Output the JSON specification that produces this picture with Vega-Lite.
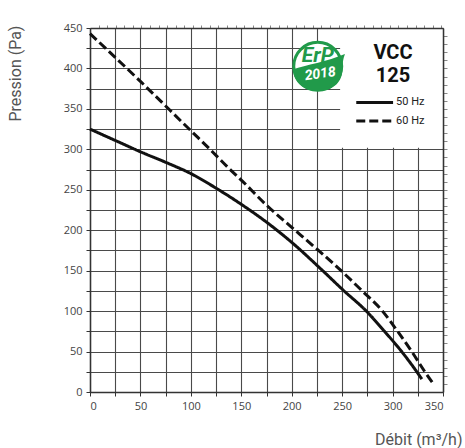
{
  "$schema": "https://vega.github.io/schema/vega-lite/v6.json",
  "width": 353,
  "height": 364,
  "autosize": {"type": "none"},
  "padding": {"left": 90, "top": 28, "right": 22, "bottom": 56},
  "background": "white",
  "config": {"view": {"stroke": null}},
  "datasets": {
    "curves": [
      {"q": 0, "p": 325, "s": "50 Hz"}, {"q": 25, "p": 311, "s": "50 Hz"}, {"q": 50, "p": 297, "s": "50 Hz"},
      {"q": 75, "p": 284, "s": "50 Hz"}, {"q": 100, "p": 270, "s": "50 Hz"}, {"q": 125, "p": 252, "s": "50 Hz"},
      {"q": 150, "p": 232, "s": "50 Hz"}, {"q": 175, "p": 210, "s": "50 Hz"}, {"q": 200, "p": 185, "s": "50 Hz"},
      {"q": 229, "p": 152, "s": "50 Hz"}, {"q": 251, "p": 126, "s": "50 Hz"}, {"q": 274, "p": 100, "s": "50 Hz"},
      {"q": 292, "p": 75, "s": "50 Hz"}, {"q": 309, "p": 50, "s": "50 Hz"}, {"q": 324, "p": 25, "s": "50 Hz"},
      {"q": 329, "p": 16, "s": "50 Hz"},
      {"q": 0, "p": 443, "s": "60 Hz"}, {"q": 50, "p": 384, "s": "60 Hz"}, {"q": 100, "p": 323, "s": "60 Hz"},
      {"q": 119, "p": 300, "s": "60 Hz"}, {"q": 139, "p": 275, "s": "60 Hz"}, {"q": 150, "p": 262, "s": "60 Hz"},
      {"q": 175, "p": 231, "s": "60 Hz"}, {"q": 208, "p": 195, "s": "60 Hz"}, {"q": 249, "p": 150, "s": "60 Hz"},
      {"q": 269, "p": 126, "s": "60 Hz"}, {"q": 290, "p": 100, "s": "60 Hz"}, {"q": 305, "p": 75, "s": "60 Hz"},
      {"q": 319, "p": 50, "s": "60 Hz"}, {"q": 332, "p": 25, "s": "60 Hz"}, {"q": 341, "p": 9, "s": "60 Hz"}
    ],
    "box": [{"q": 248, "q2": 350, "p": 302, "p2": 450}],
    "logo": [{"q": 225.8, "p": 402.6}],
    "logotext": [
      {"q": 225.8, "p": 415, "t": "ErP", "k": "erp"},
      {"q": 228.3, "p": 393, "t": "2018", "k": "year"}
    ],
    "title": [
      {"q": 300.4, "p": 419, "t": "VCC"},
      {"q": 300.4, "p": 391, "t": "125"}
    ],
    "legline": [
      {"q": 264, "p": 358, "s": "50 Hz"}, {"q": 300.5, "p": 358, "s": "50 Hz"},
      {"q": 264, "p": 335, "s": "60 Hz"}, {"q": 300.5, "p": 335, "s": "60 Hz"}
    ],
    "legtext": [
      {"q": 303.5, "p": 358, "t": "50 Hz"},
      {"q": 303.5, "p": 335, "t": "60 Hz"}
    ]
  },
  "layer": [
    {
      "data": {"name": "box"},
      "mark": {"type": "rect", "fill": "white", "stroke": null},
      "encoding": {
        "x": {"field": "q", "type": "quantitative", "scale": {"domain": [0, 350], "nice": false, "zero": false},
          "axis": {"orient": "top", "values": [8.5,17,25.5,34,42.5,51,59.5,68,76.5,85,93.4,101.9,110.4,118.9,127.4,135.9,144.4,152.9,161.4,169.9,178.4,186.9,195.4,203.9,212.4,220.9,229.4,237.9,246.4,254.9,263.4,271.8,280.3,288.8,297.3,305.8,314.3,322.8,331.3,339.8,348.3],
            "labels": false, "grid": false, "title": null, "tickSize": 3, "tickColor": "#888", "domainColor": "#333", "domainWidth": 1.5, "zindex": 1}},
        "x2": {"field": "q2"},
        "y": {"field": "p", "type": "quantitative", "scale": {"domain": [0, 450], "nice": false, "zero": false},
          "axis": {"orient": "right", "values": [10,20,30,40,50,60,70,80,90,100,110,120,130,140,150,160,170,180,190,200,210,220,230,240,250,260,270,280,290,300,310,320,330,340,350,360,370,380,390,400,410,420,430,440],
            "labels": false, "grid": false, "title": null, "tickSize": 4, "tickColor": "#888", "domainColor": "#333", "domainWidth": 1.5, "zindex": 1}},
        "y2": {"field": "p2"}
      }
    },
    {
      "data": {"name": "curves"},
      "mark": {"type": "line", "interpolate": "monotone", "strokeWidth": 3, "color": "#111"},
      "encoding": {
        "x": {"field": "q", "type": "quantitative",
          "axis": {"orient": "bottom", "values": [0,25,50,75,100,125,150,175,200,225,250,275,300,325,350],
            "labelExpr": "datum.value % 50 == 0 ? datum.label : ''",
            "grid": true, "gridColor": "#4a4a4a", "gridWidth": 1.1, "gridOpacity": 1,
            "domainColor": "#333", "domainWidth": 1.5, "tickColor": "#333", "tickSize": 4,
            "labelFont": "Open Sans", "labelFontSize": 11, "labelColor": "#444", "labelPadding": 4,
            "title": "Débit (m³/h)", "titleFont": "Roboto", "titleFontWeight": "normal", "titleFontSize": 16, "titleColor": "#555",
            "titleAnchor": null, "titleAlign": "right", "titleBaseline": "alphabetic", "titleX": 372, "titleY": 52}},
        "y": {"field": "p", "type": "quantitative",
          "axis": {"orient": "left", "values": [0,25,50,75,100,125,150,175,200,225,250,275,300,325,350,375,400,425,450],
            "labelExpr": "datum.value % 50 == 0 ? datum.label : ''",
            "grid": true, "gridColor": "#4a4a4a", "gridWidth": 1.1, "gridOpacity": 1,
            "domainColor": "#333", "domainWidth": 1.5, "tickColor": "#333", "tickSize": 4,
            "labelFont": "Open Sans", "labelFontSize": 11, "labelColor": "#444", "labelPadding": 4,
            "title": "Pression (Pa)", "titleFont": "Roboto", "titleFontWeight": "normal", "titleFontSize": 16, "titleColor": "#555",
            "titleAnchor": null, "titleAngle": 270, "titleAlign": "left", "titleBaseline": "middle", "titleX": -75, "titleY": 93}},
        "strokeDash": {"field": "s", "type": "nominal", "scale": {"domain": ["50 Hz", "60 Hz"], "range": [[1, 0], [9, 4]]}, "legend": null},
        "detail": {"field": "s"}
      }
    },
    {
      "data": {"name": "legline"},
      "mark": {"type": "line", "strokeWidth": 3, "color": "#111"},
      "encoding": {
        "x": {"field": "q", "type": "quantitative", "axis": null},
        "y": {"field": "p", "type": "quantitative", "axis": null},
        "strokeDash": {"field": "s", "type": "nominal", "scale": {"domain": ["50 Hz", "60 Hz"], "range": [[1, 0], [9, 4]]}, "legend": null},
        "detail": {"field": "s"}
      }
    },
    {
      "data": {"name": "legtext"},
      "mark": {"type": "text", "align": "left", "baseline": "middle", "font": "Roboto", "fontSize": 11, "color": "#222"},
      "encoding": {
        "x": {"field": "q", "type": "quantitative", "axis": null},
        "y": {"field": "p", "type": "quantitative", "axis": null},
        "text": {"field": "t"}
      }
    },
    {
      "data": {"name": "title"},
      "mark": {"type": "text", "align": "center", "baseline": "middle", "font": "Roboto", "fontWeight": "bold", "fontSize": 20, "color": "#111"},
      "encoding": {
        "x": {"field": "q", "type": "quantitative", "axis": null},
        "y": {"field": "p", "type": "quantitative", "axis": null},
        "text": {"field": "t"}
      }
    },
    {
      "data": {"name": "logo"},
      "mark": {"type": "point", "shape": "circle", "filled": true, "fill": "white", "stroke": "#219a4a", "strokeWidth": 3, "size": 2300, "opacity": 1},
      "encoding": {
        "x": {"field": "q", "type": "quantitative", "axis": null},
        "y": {"field": "p", "type": "quantitative", "axis": null}
      }
    },
    {
      "data": {"name": "logo"},
      "mark": {"type": "point", "shape": "M -0.99 0.12 C -0.5 -0.05 0.4 -0.2 1.1 -0.5 C 1.02 -0.3 1.0 -0.1 0.99 0.14 C 0.99 0.7 0.55 1 0 1 C -0.55 1 -0.99 0.65 -0.99 0.12 Z", "filled": true, "fill": "#219a4a", "strokeWidth": 0, "size": 2450, "opacity": 1},
      "encoding": {
        "x": {"field": "q", "type": "quantitative", "axis": null},
        "y": {"field": "p", "type": "quantitative", "axis": null}
      }
    },
    {
      "data": {"name": "logotext"},
      "mark": {"type": "text", "align": "center", "baseline": "middle", "font": "Roboto", "fontWeight": "bold", "fontStyle": "italic", "opacity": 1},
      "encoding": {
        "x": {"field": "q", "type": "quantitative", "axis": null},
        "y": {"field": "p", "type": "quantitative", "axis": null},
        "text": {"field": "t"},
        "color": {"field": "k", "type": "nominal", "scale": {"domain": ["erp", "year"], "range": ["#219a4a", "#ffffff"]}, "legend": null},
        "size": {"field": "k", "type": "nominal", "scale": {"domain": ["erp", "year"], "range": [21, 14]}, "legend": null},
        "angle": {"field": "k", "type": "nominal", "scale": {"domain": ["erp", "year"], "range": [0, 352]}, "legend": null}
      }
    }
  ]
}
